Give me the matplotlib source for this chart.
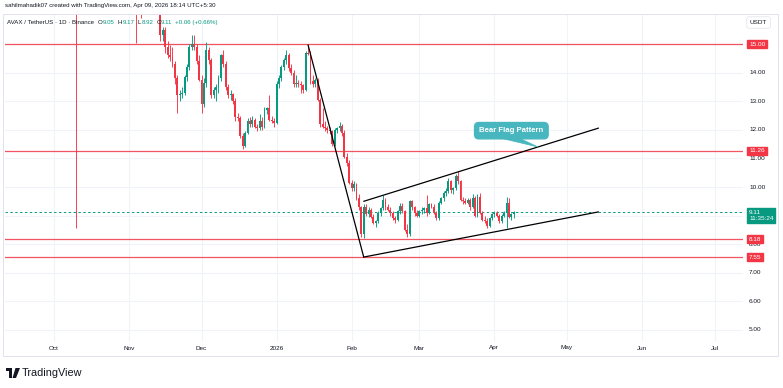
import datetime as dt

import numpy as np
import matplotlib
matplotlib.use("Agg")
import matplotlib.pyplot as plt
import matplotlib.dates as mdates
from matplotlib.transforms import blended_transform_factory
from matplotlib.patches import Polygon, Rectangle

# ---- data: AVAX/USDT daily, 14 Nov 2025 .. 9 Apr 2026 ----
start_day = dt.date(2025, 11, 14)
opens = [
    # Nov 14-30
    16.3, 15.3, 15.5, 14.9, 14.6, 14.55, 14.3, 13.8, 13.2, 13.25, 13.3, 13.85, 14.2, 14.9, 15.0, 14.9, 14.4,
    # Dec
    13.75, 12.9, 13.65, 14.8, 14.45, 13.2, 13.4, 13.5, 13.8, 14.6, 14.3, 13.5, 13.2, 13.25, 13.0, 12.45,
    12.4, 11.8, 11.45, 11.9, 12.3, 12.2, 12.35, 12.1, 12.05, 12.3, 12.1, 12.7, 12.75, 12.35, 12.3,
    # Jan
    12.25, 13.6, 13.8, 14.2, 14.45, 14.6, 14.15, 14.0, 13.6, 13.65, 13.6, 13.55, 13.4, 14.7, 14.65, 13.7,
    13.6, 13.75, 13.05, 12.2, 12.1, 12.05, 12.0, 11.95, 11.5, 12.0, 12.05, 12.15, 11.9, 11.05, 10.85,
    # Feb
    10.15, 9.95, 10.1, 9.6, 9.3, 8.35, 9.3, 9.05, 9.2, 8.95, 8.75, 8.8, 9.1, 9.25, 9.55, 9.3, 9.2, 9.1,
    8.9, 8.85, 9.15, 9.35, 9.15, 8.5, 8.35, 9.5, 9.3, 9.1,
    # Mar
    9.0, 9.15, 9.2, 9.25, 9.1, 9.4, 9.3, 9.1, 8.9, 9.45, 9.6, 9.8, 9.85, 10.2, 9.9, 9.95, 10.4, 10.2,
    9.55, 9.5, 9.45, 9.55, 9.3, 9.6, 9.0, 9.65, 9.1, 8.85, 8.8, 8.65, 8.9,
    # Apr 1-9
    9.05, 9.1, 9.0, 8.8, 9.0, 9.1, 9.45, 8.95, 9.05,
]
highs = [
    16.5, 15.6, 15.6, 15.1, 14.95, 14.9, 14.4, 13.9, 13.4, 13.5, 13.9, 14.3, 15.0, 15.3, 15.3, 15.0, 14.6,
    13.9, 13.8, 15.07, 14.9, 14.5, 13.5, 13.6, 13.9, 14.65, 14.8, 14.4, 13.6, 13.4, 13.3, 13.1, 12.6,
    12.5, 11.9, 11.95, 12.4, 12.45, 12.5, 12.4, 12.2, 12.55, 12.45, 12.8, 12.8, 13.2, 12.5, 12.4,
    13.7, 13.9, 14.25, 14.5, 14.8, 14.7, 14.3, 14.1, 13.9, 13.75, 13.7, 13.6, 14.75, 14.97, 14.75, 13.9,
    13.8, 13.8, 13.1, 12.75, 12.3, 12.15, 12.1, 12.0, 12.05, 12.1, 12.27, 12.2, 12.0, 11.2, 10.95,
    10.25, 10.2, 10.15, 9.75, 9.35, 9.4, 9.4, 9.3, 9.25, 9.05, 8.85, 9.15, 9.3, 9.73, 9.6, 9.4, 9.3, 9.15,
    9.0, 9.2, 9.45, 9.45, 9.2, 8.7, 9.55, 9.55, 9.35, 9.2,
    9.2, 9.3, 9.3, 9.72, 9.45, 9.45, 9.4, 9.15, 9.5, 9.65, 9.85, 9.95, 10.3, 10.25, 10.0, 10.45, 10.55, 10.25,
    9.65, 9.6, 9.6, 9.6, 9.75, 9.7, 9.75, 9.8, 9.15, 9.0, 8.9, 8.95, 9.1,
    9.15, 9.15, 9.05, 9.05, 9.15, 9.65, 9.6, 9.1, 9.17,
]
lows = [
    15.1, 15.1, 14.7, 14.5, 14.4, 14.2, 13.6, 12.6, 13.0, 13.1, 13.2, 13.7, 14.1, 14.8, 14.8, 14.3, 13.7,
    12.6, 12.8, 13.5, 14.3, 13.1, 13.1, 13.0, 13.3, 13.7, 14.2, 13.4, 13.1, 13.05, 12.9, 12.3, 12.3,
    11.7, 11.33, 11.4, 11.85, 12.1, 12.1, 12.05, 11.95, 12.0, 12.0, 12.05, 12.55, 12.3, 12.25, 12.1,
    12.2, 13.45, 13.7, 14.1, 14.3, 14.05, 13.9, 13.5, 13.5, 13.5, 13.3, 13.3, 13.35, 14.6, 13.6, 13.5,
    13.5, 13.0, 12.1, 12.05, 11.95, 11.9, 11.85, 11.45, 11.45, 11.9, 11.95, 11.8, 11.0, 10.75, 10.1,
    9.85, 9.85, 9.55, 9.2, 8.25, 8.2, 9.0, 8.95, 8.9, 8.7, 8.6, 8.75, 9.0, 9.2, 9.2, 9.15, 9.0, 8.85,
    8.75, 8.8, 9.05, 9.1, 8.45, 8.25, 8.3, 9.2, 9.0, 8.95,
    8.95, 9.05, 9.1, 9.0, 9.05, 9.25, 9.05, 8.85, 8.85, 9.4, 9.5, 9.7, 9.8, 9.8, 9.75, 9.9, 10.1, 9.5,
    9.4, 9.4, 9.4, 9.2, 9.25, 8.95, 8.95, 9.05, 8.8, 8.75, 8.55, 8.6, 8.85,
    8.95, 8.95, 8.75, 8.75, 8.95, 8.55, 8.9, 8.85, 8.92,
]
closes = [
    15.3, 15.5, 14.9, 14.6, 14.55, 14.3, 13.8, 13.2, 13.25, 13.3, 13.85, 14.2, 14.9, 15.0, 14.9, 14.4, 13.75,
    12.9, 13.65, 14.8, 14.45, 13.2, 13.4, 13.5, 13.8, 14.6, 14.3, 13.5, 13.2, 13.25, 13.0, 12.45, 12.4,
    11.8, 11.45, 11.9, 12.3, 12.2, 12.35, 12.1, 12.05, 12.3, 12.1, 12.7, 12.75, 12.35, 12.3, 12.25,
    13.6, 13.8, 14.2, 14.45, 14.6, 14.15, 14.0, 13.6, 13.65, 13.6, 13.55, 13.4, 14.7, 14.65, 13.7, 13.6,
    13.75, 13.05, 12.2, 12.1, 12.05, 12.0, 11.95, 11.5, 12.0, 12.05, 12.15, 11.9, 11.05, 10.85, 10.15,
    9.95, 10.1, 9.6, 9.3, 8.35, 9.3, 9.05, 9.2, 8.95, 8.75, 8.8, 9.1, 9.25, 9.55, 9.3, 9.2, 9.1, 8.9,
    8.85, 9.15, 9.35, 9.15, 8.5, 8.35, 9.5, 9.3, 9.1, 9.0,
    9.15, 9.2, 9.25, 9.1, 9.4, 9.3, 9.1, 8.9, 9.45, 9.6, 9.8, 9.85, 10.2, 9.9, 9.95, 10.4, 10.2, 9.55,
    9.5, 9.45, 9.55, 9.3, 9.6, 9.0, 9.65, 9.1, 8.85, 8.8, 8.65, 8.9, 9.05,
    9.1, 9.0, 8.8, 9.0, 9.1, 9.45, 8.95, 9.05, 9.11,
]

# earlier candles, bodies above the visible range, only wicks show
early_days = ["2025-10-10", "2025-11-04", "2025-11-06"]
early_open = [27.0, 17.2, 16.9]
early_high = [28.0, 17.4, 17.2]
early_low = [8.57, 15.03, 15.9]
early_close = [21.2, 16.4, 16.5]

levels = [15.00, 11.26, 8.18, 7.55]
last_price = 9.11
countdown = "11:35:24"
# 9.00 and 15.00 sit under the price boxes on the reference
price_ticks = [5, 6, 7, 8, 10, 11, 12, 13, 14]
grid_prices = [5, 6, 7, 8, 9, 10, 11, 12, 13, 14, 15]
month_ticks = ["2025-10-01", "2025-11-01", "2025-12-01", "2026-01-01", "2026-02-01",
               "2026-03-01", "2026-04-01", "2026-05-01", "2026-06-01", "2026-07-01"]
month_labels = ["Oct", "Nov", "Dec", "2026", "Feb", "Mar", "Apr", "May", "Jun", "Jul"]

# hand drawn trend lines (date, price)
pole = [("2026-01-14", 14.97), ("2026-02-06", 7.55)]
flag_top = [("2026-02-06", 9.50), ("2026-05-14", 12.06)]
flag_bottom = [("2026-02-06", 7.55), ("2026-05-14", 9.13)]

GREEN = "#089981"
RED = "#f23645"
TEAL = "#47b6bf"
GRID = "#f0f3fa"
TXT = "#131722"

plt.rcParams["font.family"] = ["Liberation Sans", "DejaVu Sans"]

W, H = 783, 388
fig = plt.figure(figsize=(W / 100, H / 100), dpi=100)
fig.patch.set_facecolor("white")

def fx(px):
    return px / W

def fy(py):
    return 1 - py / H

ax = fig.add_axes([fx(5), fy(341), fx(743) - fx(5), fy(14) - fy(341)])
for s in ax.spines.values():
    s.set_visible(False)
ax.set_xticks([])
ax.set_yticks([])

def dnum(s):
    return mdates.date2num(dt.datetime.strptime(s, "%Y-%m-%d"))

base = dnum("2025-10-01")
ax.set_xlim(base - 20.2, base + 284.7)
ax.set_ylim(4.615, 16.05)

# grid
for m in month_ticks:
    ax.axvline(dnum(m), color=GRID, lw=0.8, zorder=0)
for p in grid_prices:
    ax.axhline(p, color=GRID, lw=0.8, zorder=0)

def candles(xs, o, h, l, c):
    o, h, l, c = map(np.asarray, (o, h, l, c))
    cols = np.where(c >= o, GREEN, RED)
    ax.vlines(xs, l, h, colors=cols, lw=0.65, zorder=3)
    ax.bar(xs, np.maximum(np.abs(c - o), 0.03), bottom=np.minimum(o, c), width=0.78,
           color=cols, lw=0, zorder=3)

x_main = mdates.date2num(dt.datetime.combine(start_day, dt.time())) + np.arange(len(closes))
candles(x_main, opens, highs, lows, closes)
candles([dnum(d) for d in early_days], early_open, early_high, early_low, early_close)

# horizontal levels
for lv in levels:
    ax.axhline(lv, color=RED, lw=0.9, alpha=0.85, zorder=2)
ax.axhline(last_price, color=GREEN, lw=0.7, ls=(0, (2.5, 2.5)), zorder=2)

# trend lines
for seg in (pole, flag_top, flag_bottom):
    ax.plot([dnum(seg[0][0]), dnum(seg[1][0])], [seg[0][1], seg[1][1]], color="black",
            lw=0.9, zorder=4, solid_capstyle="round")

# callout
ax.text(dnum("2026-04-08"), 11.97, "Bear Flag Pattern", color="white", fontsize=5.6,
        fontweight="bold", ha="center", va="center", zorder=6,
        bbox=dict(boxstyle="round,pad=0.6,rounding_size=0.55", fc=TEAL, ec=TEAL))
ax.add_patch(Polygon([(dnum("2026-04-03"), 11.72), (dnum("2026-04-11"), 11.72),
                      (dnum("2026-04-19"), 11.40)], closed=True, fc=TEAL, ec=TEAL,
                     lw=0.5, zorder=5))

# right price scale
tr_r = blended_transform_factory(fig.transFigure, ax.transData)
for p in price_ticks:
    ax.text(fx(749), p, f"{p:.2f}", transform=tr_r, fontsize=4.6, color=TXT,
            ha="left", va="center", clip_on=False, zorder=7)
for lv in levels:
    ax.text(fx(749), lv, f"{lv:.2f}", transform=tr_r, fontsize=4.6, color="white",
            ha="left", va="center", clip_on=False, zorder=8,
            bbox=dict(boxstyle="square,pad=0.3", fc=RED, ec=RED))
ax.text(fx(749), 9.0, f"{last_price:.2f}\n{countdown}", transform=tr_r, fontsize=4.6,
        color="white", ha="left", va="center", linespacing=1.15, clip_on=False, zorder=8,
        bbox=dict(boxstyle="square,pad=0.3", fc=GREEN, ec=GREEN))

# time scale
tr_b = blended_transform_factory(ax.transData, fig.transFigure)
for m, lab in zip(month_ticks, month_labels):
    ax.text(dnum(m), fy(348), lab, transform=tr_b, fontsize=4.6, color=TXT,
            ha="center", va="center", clip_on=False)

# frame around the chart
fig.add_artist(Rectangle((fx(3), fy(356)), fx(778) - fx(3), fy(14) - fy(356),
                         transform=fig.transFigure, fc="none", ec="#e0e3eb", lw=0.7))
fig.text(fx(750), fy(22.5), "USDT", fontsize=4.6, color=TXT, ha="left", va="center",
         bbox=dict(boxstyle="round,pad=0.5,rounding_size=0.3", fc="white", ec="#e0e3eb", lw=0.5))

# header texts
fig.text(fx(5), fy(6), "sahilmahadik07 created with TradingView.com, Apr 09, 2026 18:14 UTC+5:30",
         fontsize=4.4, color=TXT, ha="left", va="center")

# symbol line: tokens laid out one after another
renderer = fig.canvas.get_renderer()
hy = fy(22.5)
tokens = [("AVAX / TetherUS \u00b7 1D \u00b7 Binance", TXT, 4.0),
          ("O", TXT, 0.3), ("9.05", GREEN, 3.0),
          ("H", TXT, 0.3), ("9.17", GREEN, 3.0),
          ("L", TXT, 0.3), ("8.92", GREEN, 3.0),
          ("C", TXT, 0.3), ("9.11", GREEN, 3.0),
          ("+0.06 (+0.66%)", GREEN, 0)]
xp = 7.0
for txt, col, gap in tokens:
    t = fig.text(fx(xp), hy, txt, fontsize=4.4, color=col, ha="left", va="center")
    xp += t.get_window_extent(renderer).width + gap

# TradingView logo
fig.add_artist(Rectangle((fx(6), fy(371)), fx(11) - fx(6), fy(368) - fy(371),
                         transform=fig.transFigure, fc=TXT, ec="none"))
fig.add_artist(Rectangle((fx(9), fy(378)), fx(11.5) - fx(9), fy(368) - fy(378),
                         transform=fig.transFigure, fc=TXT, ec="none"))
fig.add_artist(Polygon([(fx(15.5), fy(368)), (fx(20), fy(368)), (fx(16), fy(378)), (fx(12.5), fy(378))],
                       closed=True, transform=fig.transFigure, fc=TXT, ec="none"))
fig.text(fx(22), fy(373), "TradingView", fontsize=7.8, color=TXT, ha="left", va="center")

fig.savefig("out.png", dpi=100)
